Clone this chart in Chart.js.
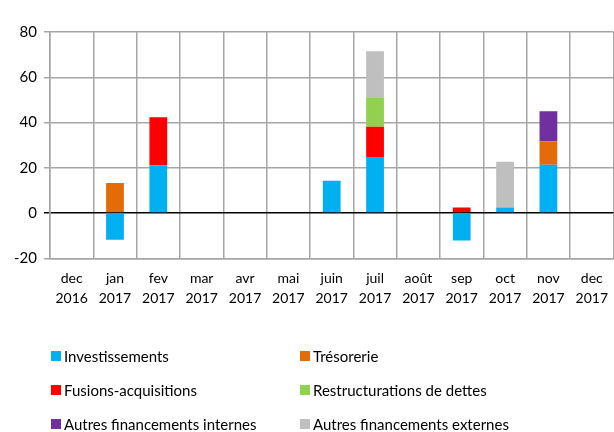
<!DOCTYPE html>
<html lang="fr">
<head>
<meta charset="UTF-8">
<title>Financements par objet</title>
<script src="https://cdn.jsdelivr.net/npm/chart.js"></script>
<style>
  html, body { margin: 0; padding: 0; background: #fff; overflow: hidden; }
  #wrap { width: 618px; height: 432px; }
</style>
</head>
<body>
<div id="wrap"><canvas id="chart" width="618" height="432"></canvas></div>
<script>
// categories (month / year on two lines)
const months = [
  ['dec', '2016'], ['jan', '2017'], ['fev', '2017'], ['mar', '2017'],
  ['avr', '2017'], ['mai', '2017'], ['juin', '2017'], ['juil', '2017'],
  ['août', '2017'], ['sep', '2017'], ['oct', '2017'], ['nov', '2017'],
  ['dec', '2017']
];

// series values
const investissements   = [null, -11.8, 21.1, null, null, null, 14.3, 24.8, null, -12.1, 2.5, 21.4, null];
const tresorerie        = [null, 13.3, null, null, null, null, null, null, null, null, null, 10.3, null];
const fusions           = [null, null, 21.2, null, null, null, null, 13.3, null, 2.5, null, null, null];
const restructurations  = [null, null, null, null, null, null, null, 13.1, null, null, null, null, null];
const autresInternes    = [null, null, null, null, null, null, null, null, null, null, null, 13.3, null];
const autresExternes    = [null, null, null, null, null, null, null, 20.3, null, null, 20.2, null, null];

const yTicks = [-20, 0, 20, 40, 60, 80];

const FONT = 'Lato, "Open Sans", sans-serif';

// two-column legend drawn under the chart
const legendGrid = {
  id: 'legendGrid',
  afterDraw(chart) {
    const c = chart.ctx;
    const cols = [51, 300];
    const rows = [356, 390, 424];
    c.save();
    c.font = '15px ' + FONT;
    c.textBaseline = 'middle';
    c.textAlign = 'left';
    chart.data.datasets.forEach((ds, i) => {
      const x = cols[i % 2];
      const y = rows[Math.floor(i / 2)];
      c.fillStyle = ds.backgroundColor;
      c.fillRect(x, y - 5, 10, 10);
      c.fillStyle = '#000';
      c.fillText(ds.label, x + 13, y + 1);
    });
    c.restore();
  }
};

const mk = (label, data, color) => ({
  label: label,
  data: data,
  backgroundColor: color,
  borderWidth: 0,
  barPercentage: 0.82,
  categoryPercentage: 0.5
});

new Chart(document.getElementById('chart'), {
  type: 'bar',
  data: {
    labels: months,
    datasets: [
      mk('Investissements', investissements, '#00b0f0'),
      mk('Trésorerie', tresorerie, '#e36c09'),
      mk('Fusions-acquisitions', fusions, '#ff0000'),
      mk('Restructurations de dettes', restructurations, '#92d050'),
      mk('Autres financements internes', autresInternes, '#7030a0'),
      mk('Autres financements externes', autresExternes, '#bfbfbf')
    ]
  },
  options: {
    responsive: false,
    animation: false,
    layout: { padding: { top: 32, right: 0, bottom: 113, left: 7 } },
    plugins: {
      legend: { display: false },
      tooltip: { enabled: false }
    },
    scales: {
      x: {
        stacked: true,
        grid: {
          offset: true,
          color: '#a6a6a6',
          lineWidth: 1.5,
          drawTicks: false
        },
        border: { color: '#a6a6a6', width: 1.5 },
        ticks: {
          color: '#000',
          font: { family: FONT, size: 14, lineHeight: 1.45 },
          padding: 10,
          maxRotation: 0,
          autoSkip: false
        }
      },
      y: {
        stacked: true,
        min: -20,
        max: 80,
        afterBuildTicks(axis) {
          axis.ticks = yTicks.map(v => ({ value: v }));
        },
        grid: {
          color: ctx => (ctx.tick && ctx.tick.value === 0) ? '#000' : '#a6a6a6',
          lineWidth: 1.5,
          tickLength: 6
        },
        border: { color: '#a6a6a6', width: 1.5 },
        ticks: {
          color: '#000',
          font: { family: FONT, size: 15 },
          padding: 7
        }
      }
    }
  },
  plugins: [legendGrid]
});
</script>
</body>
</html>
